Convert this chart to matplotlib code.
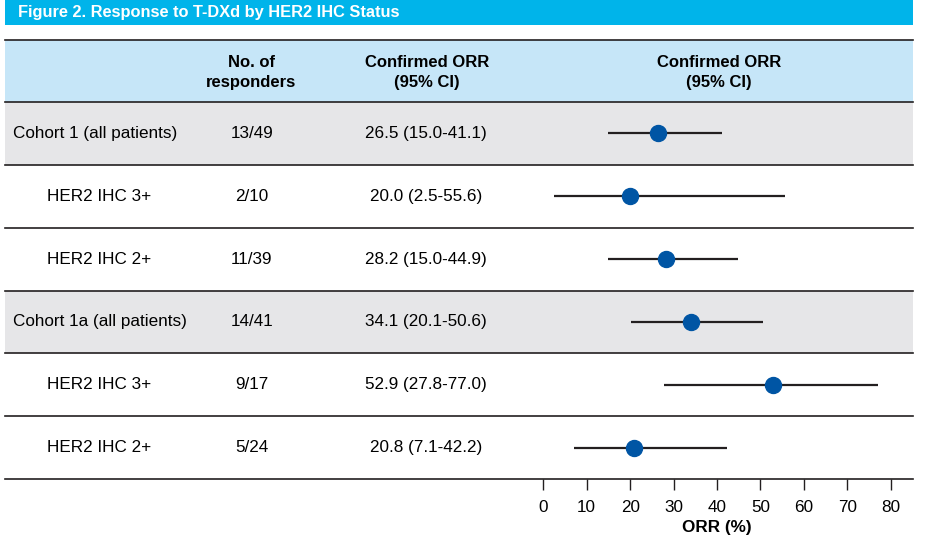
import matplotlib.pyplot as plt

# Daten
labels = ["Cohort 1 (all patients)", "HER2 IHC 3+", "HER2 IHC 2+",
          "Cohort 1a (all patients)", "HER2 IHC 3+", "HER2 IHC 2+"]
indent = [False, True, True, False, True, True]
responders = ["13/49", "2/10", "11/39", "14/41", "9/17", "5/24"]
orr = [26.5, 20.0, 28.2, 34.1, 52.9, 20.8]
ci_low = [15.0, 2.5, 15.0, 20.1, 27.8, 7.1]
ci_high = [41.1, 55.6, 44.9, 50.6, 77.0, 42.2]
shaded = [True, False, False, True, False, False]
xticks = [0, 10, 20, 30, 40, 50, 60, 70, 80]

plt.rcParams['font.family'] = ['Liberation Sans', 'DejaVu Sans']

W, H = 925, 549
fig = plt.figure(figsize=(W / 100, H / 100), dpi=100)

# Hintergrund in Pixelkoordinaten
bg = fig.add_axes([0, 0, 1, 1])
bg.set_xlim(0, W)
bg.set_ylim(H, 0)
bg.axis("off")

left, right = 5, 913
top_hdr, bot_hdr = 39.5, 102
row_h = (479 - bot_hdr) / len(labels)
dark = "#231f20"

# Titelbalken
bg.add_patch(plt.Rectangle((left, 0), right - left, 25, color="#00b4ea", lw=0))
bg.text(18, 13, "Figure 2. Response to T-DXd by HER2 IHC Status", color="white",
        fontsize=11.8, fontweight="bold", va="center", ha="left")

# Kopfzeile
bg.add_patch(plt.Rectangle((left, top_hdr), right - left, bot_hdr - top_hdr,
                           color="#c6e6f8", lw=0))
bg.plot([left, right], [top_hdr, top_hdr], color=dark, lw=1.2)
hdr_y = (top_hdr + bot_hdr) / 2 + 2
for xc, txt in [(251, "No. of\nresponders"), (427, "Confirmed ORR\n(95% CI)"),
                (719, "Confirmed ORR\n(95% CI)")]:
    bg.text(xc, hdr_y, txt, ha="center", va="center",
            fontsize=12, fontweight="bold", linespacing=1.45)

# Zeilen
for i in range(len(labels)):
    y0 = bot_hdr + i * row_h
    if shaded[i]:
        bg.add_patch(plt.Rectangle((left, y0), right - left, row_h,
                                   color="#e6e6e8", lw=0))
    bg.plot([left, right], [y0, y0], color=dark, lw=1.2)
    yc = y0 + row_h / 2
    bg.text(47 if indent[i] else 13, yc, labels[i], ha="left", va="center",
            fontsize=12.3)
    bg.text(252, yc, responders[i], ha="center", va="center", fontsize=12.3)
    bg.text(426, yc, f"{orr[i]:.1f} ({ci_low[i]:.1f}-{ci_high[i]:.1f})",
            ha="center", va="center", fontsize=12.3)
bg.plot([left, right], [479, 479], color=dark, lw=1.2)

# Forest-Plot
x0_px, x80_px = 543.3, 890.7
ax = fig.add_axes([x0_px / W, 1 - 479 / H, (x80_px - x0_px) / W, (479 - bot_hdr) / H])
ax.patch.set_alpha(0)
rows = list(range(len(labels)))
ax.hlines(rows, ci_low, ci_high, color=dark, lw=1.6)
ax.plot(orr, rows, "o", color="#0055a4", markersize=11.5, zorder=3)
ax.set_xlim(0, 80)
ax.set_ylim(len(labels) - 0.5, -0.5)
for s in ["top", "right", "left", "bottom"]:
    ax.spines[s].set_visible(False)
ax.set_yticks([])
ax.set_xticks(xticks)
ax.tick_params(axis="x", direction="out", length=8, width=1, color=dark,
               pad=7, labelsize=12.3)
ax.set_xlabel("ORR (%)", fontsize=12.3, fontweight="bold", labelpad=4)

fig.savefig("out.png", dpi=100)
